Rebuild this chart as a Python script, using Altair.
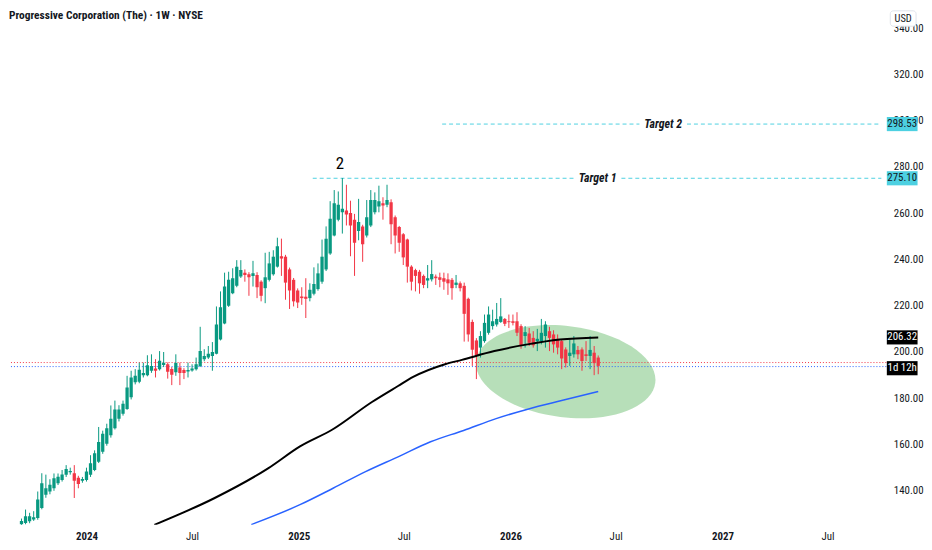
import altair as alt
import pandas as pd

# ---------------- data ----------------
title_text = "Progressive Corporation (The) · 1W · NYSE"
first_week = "2023-09-11"

opens = [
    125.5, 126.1, 126.9, 127.6, 128.3, 132.6, 138.3, 139.7, 141.1, 143.3,
    144.7, 146.9, 148.0, 147.6, 145.7, 144.3, 144.7, 146.9, 149.0, 152.6,
    156.9, 160.4, 164.0, 167.1, 171.2, 173.3, 175.4, 180.4, 186.9, 187.2,
    190.0, 190.0, 191.9, 192.9, 192.6, 194.4, 194.7, 192.7, 191.2, 193.3,
    192.2, 191.6, 192.0, 192.6, 194.0, 196.9, 197.6, 198.3, 199.3, 205.4,
    212.3, 220.0, 225.4, 228.6, 232.6, 234.3, 233.6, 232.9, 233.3, 230.4,
    227.6, 231.2, 233.6, 236.9, 241.4, 241.2, 235.7, 231.2, 226.6, 224.0,
    223.9, 223.3, 225.2, 227.2, 230.4, 235.7, 242.6, 250.4, 257.2, 260.4,
    261.2, 260.1, 257.2, 252.3, 254.3, 250.4, 254.7, 260.4, 262.9, 264.3,
    263.7, 264.7, 258.3, 254.0, 250.9, 248.6, 236.9, 235.4, 234.7, 232.9,
    230.9, 231.4, 232.6, 232.3, 231.9, 231.4, 231.2, 229.0, 229.7, 228.6,
    223.0, 213.0, 205.0, 201.9, 204.7, 208.3, 211.2, 211.9, 213.0, 214.3,
    213.3, 213.3, 213.3, 211.2, 206.9, 208.0, 206.1, 204.7, 204.7, 206.9,
    209.0, 207.6, 205.7, 204.7, 201.1, 198.3, 199.0, 200.9, 201.1, 199.0,
    198.3, 199.7, 197.6,
]
highs = [
    128.0, 131.9, 130.5, 131.2, 139.7, 147.6, 147.0, 145.0, 147.5, 147.5,
    149.0, 151.1, 150.0, 151.1, 146.5, 146.0, 150.0, 155.4, 157.5, 167.6,
    166.0, 169.0, 176.9, 179.0, 177.0, 179.0, 189.7, 191.9, 192.6, 195.4,
    195.4, 198.6, 199.0, 196.9, 200.4, 200.0, 195.5, 193.5, 199.0, 195.4,
    193.0, 195.4, 194.7, 197.6, 210.9, 201.2, 202.6, 204.3, 219.7, 226.2,
    234.3, 234.7, 236.2, 239.7, 239.7, 235.7, 234.5, 239.4, 234.5, 231.0,
    242.9, 243.3, 244.0, 249.4, 249.0, 242.0, 236.5, 232.0, 227.5, 228.0,
    231.9, 229.7, 236.6, 238.3, 248.6, 254.3, 265.2, 270.0, 269.4, 275.2,
    272.3, 265.4, 259.7, 266.2, 255.0, 265.7, 270.0, 269.0, 271.9, 266.9,
    272.3, 266.0, 259.0, 254.5, 251.4, 249.0, 237.5, 236.0, 235.5, 233.5,
    237.6, 239.7, 233.5, 234.3, 234.3, 234.0, 232.0, 233.3, 230.5, 230.0,
    223.5, 214.0, 206.0, 209.0, 216.2, 219.7, 218.3, 221.2, 223.3, 214.7,
    216.2, 216.2, 217.2, 212.0, 211.2, 210.4, 209.0, 210.0, 214.3, 213.3,
    210.9, 209.4, 207.6, 205.5, 202.0, 205.4, 206.9, 202.6, 202.0, 204.7,
    206.9, 202.6, 198.5,
]
lows = [
    124.5, 125.5, 126.0, 127.0, 127.5, 132.0, 137.0, 138.5, 140.0, 142.5,
    144.0, 146.0, 147.0, 136.9, 141.1, 143.5, 144.0, 146.0, 148.5, 152.0,
    156.0, 159.5, 163.0, 166.5, 170.0, 172.5, 175.0, 179.5, 186.0, 186.5,
    189.0, 189.5, 191.0, 189.0, 192.0, 193.5, 188.5, 185.7, 189.7, 185.7,
    188.3, 189.0, 191.5, 192.0, 193.5, 196.0, 197.0, 191.9, 199.0, 205.0,
    212.0, 219.5, 225.0, 228.0, 232.0, 230.4, 224.3, 228.3, 223.3, 221.9,
    221.1, 230.5, 233.0, 236.5, 232.9, 222.6, 218.6, 219.7, 219.0, 220.4,
    214.7, 221.9, 224.5, 226.5, 229.5, 235.0, 242.0, 250.0, 256.5, 251.2,
    254.7, 241.4, 232.9, 248.3, 239.0, 249.5, 254.0, 259.5, 260.4, 257.2,
    262.6, 246.6, 242.6, 243.3, 237.6, 230.0, 226.6, 226.2, 225.2, 227.6,
    227.6, 230.5, 229.0, 228.0, 226.9, 224.7, 222.6, 227.6, 226.2, 204.5,
    204.5, 194.0, 188.3, 197.6, 204.0, 207.5, 209.7, 211.0, 212.6, 211.2,
    210.4, 211.5, 206.9, 201.4, 201.9, 202.6, 201.9, 200.4, 203.3, 201.9,
    200.4, 199.7, 199.0, 192.6, 193.3, 194.0, 197.6, 196.9, 191.9, 196.1,
    192.6, 190.0, 190.4,
]
closes = [
    127.0, 129.0, 129.0, 128.6, 136.2, 143.3, 141.1, 142.6, 145.4, 146.1,
    147.1, 149.4, 148.6, 144.3, 142.9, 145.1, 148.3, 151.9, 156.2, 161.1,
    164.7, 167.1, 171.2, 175.2, 175.2, 177.6, 184.7, 189.0, 189.7, 192.3,
    190.9, 194.3, 194.0, 191.9, 196.2, 195.4, 191.5, 190.2, 195.2, 190.9,
    190.9, 192.2, 192.9, 194.7, 200.4, 198.3, 199.3, 200.0, 211.9, 219.4,
    228.3, 231.2, 231.9, 236.9, 235.4, 233.3, 232.3, 234.0, 228.0, 224.3,
    232.3, 238.3, 241.2, 245.7, 240.4, 230.0, 226.6, 221.9, 221.4, 223.3,
    223.0, 226.9, 229.4, 234.0, 241.2, 249.0, 257.6, 264.3, 263.7, 261.9,
    259.4, 254.7, 247.2, 256.2, 246.6, 258.3, 265.7, 265.7, 265.2, 263.3,
    265.7, 255.2, 250.4, 247.2, 240.9, 236.9, 230.4, 232.9, 229.7, 229.0,
    231.9, 233.7, 231.9, 231.2, 230.4, 229.7, 227.6, 230.0, 227.6, 216.5,
    207.6, 201.0, 198.5, 206.9, 212.6, 216.2, 213.3, 214.3, 215.4, 212.2,
    212.9, 212.6, 208.3, 202.9, 208.6, 204.0, 202.9, 205.7, 208.3, 211.9,
    206.1, 203.3, 201.9, 197.2, 195.2, 199.7, 203.7, 199.0, 196.1, 198.3,
    200.9, 195.2, 194.0,
]

ma_black_dates = ["2024-04-27", "2024-08-09", "2024-11-09", "2025-01-03", "2025-02-28",
                  "2025-05-07", "2025-06-21", "2025-07-17", "2025-09-10", "2025-10-09",
                  "2025-12-04", "2026-01-30", "2026-03-27", "2026-06-01"]
ma_black_values = [125.3, 136.9, 149.7, 159.2, 166.5, 178.4, 185.3, 189.2, 194.7, 196.6,
                   200.4, 203.3, 205.4, 206.32]

ma_blue_dates = ["2024-10-11", "2025-01-03", "2025-03-01", "2025-04-26", "2025-06-21",
                 "2025-08-16", "2025-10-12", "2025-12-07", "2026-02-01", "2026-03-30",
                 "2026-06-01"]
ma_blue_values = [125.4, 134.0, 141.1, 148.3, 154.7, 161.2, 166.1, 171.2, 175.4, 179.0, 182.9]

target_names = ["Target 1", "Target 2"]
target_prices = [275.10, 298.53]
target_text_dates = ["2026-05-31", "2026-09-21"]
target_seg_starts = ["2025-01-25", "2026-07-11", "2025-09-05", "2026-11-01"]
target_seg_ends = ["2026-04-21", "2027-10-02", "2026-08-11", "2027-10-02"]
target_seg_prices = [275.10, 275.10, 298.53, 298.53]

wave_labels = ["2"]
wave_dates = ["2025-03-13"]
wave_prices = [281.3]

price_line_values = [195.45, 193.7]
price_line_colors = ["#f23645", "#2962ff"]

tag_texts = ["298.53", "275.10", "206.32", "1d 12h"]
tag_prices = [298.53, 275.10, 206.32, 193.0]
tag_fills = ["#4dd0e1", "#4dd0e1", "#000000", "#000000"]
tag_text_colors = ["#131722", "#131722", "#ffffff", "#ffffff"]

ellipse_dates = ["2026-04-06"]
ellipse_prices = [191.5]

x_tick_dates = ["2024-01-01", "2024-07-01", "2025-01-01", "2025-07-01",
                "2026-01-01", "2026-07-01", "2027-01-01", "2027-07-01"]
y_tick_values = [140, 160, 180, 200, 220, 240, 260, 280, 300, 320, 340]
x_domain_dates = ["2023-08-29", "2027-10-02"]
y_domain = [125.3, 347.7]

# ---------------- build ----------------
UP = "#089981"
DOWN = "#f23645"
TXT = "#131722"
FONT = "'Liberation Sans Narrow', 'Roboto Condensed', 'DejaVu Sans Condensed', 'Liberation Sans', sans-serif"


def ms(s):
    return int(pd.Timestamp(s, tz="UTC").value // 10**6)


dates = pd.date_range(first_week, periods=len(opens), freq="7D").strftime("%Y-%m-%d")
candles = pd.DataFrame({"date": dates, "open": opens, "high": highs,
                        "low": lows, "close": closes})

xscale = alt.Scale(type="utc", domain=[ms(d) for d in x_domain_dates], nice=False)
yscale = alt.Scale(domain=y_domain, nice=False, zero=False)

xaxis = alt.Axis(
    values=[ms(d) for d in x_tick_dates],
    labelExpr="utcmonth(datum.value) == 0 ? utcFormat(datum.value, '%Y') : utcFormat(datum.value, '%b')",
    labelFontWeight={"condition": {"test": "utcmonth(datum.value) == 0", "value": "bold"},
                     "value": "normal"},
    labelPadding=6, ticks=False, domain=False, grid=False,
    labelFlush=False, labelOverlap=False,
)
yaxis = alt.Axis(orient="right", values=y_tick_values, format=".2f", labelPadding=7,
                 ticks=False, domain=False, grid=False, labelOverlap=False)


def X(field):
    return alt.X(f"{field}:T", scale=xscale, axis=xaxis, title=None)


def Y(field):
    return alt.Y(f"{field}:Q", scale=yscale, axis=yaxis, title=None)


color_cond = alt.condition("datum.close >= datum.open", alt.value(UP), alt.value(DOWN))

ellipse_path = "M-1,0A1,0.5055,0,1,1,1,0A1,0.5055,0,1,1,-1,0Z"
ellipse = alt.Chart(pd.DataFrame({"date": ellipse_dates, "price": ellipse_prices})).mark_point(
    shape=ellipse_path, size=33124, angle=7, filled=True, color="#4caf50",
    opacity=0.4, strokeWidth=0
).encode(x=X("date"), y=Y("price"))

price_lines = alt.Chart(pd.DataFrame({"price": price_line_values, "c": price_line_colors})).mark_rule(
    strokeDash=[1, 2], strokeWidth=1
).encode(y=Y("price"), color=alt.Color("c:N", scale=None))

target_lines = alt.Chart(pd.DataFrame({"date": target_seg_starts, "end": target_seg_ends,
                                       "price": target_seg_prices})).mark_rule(
    color="#4dd0e1", strokeDash=[4, 3], strokeWidth=1
).encode(x=X("date"), x2=alt.X2("end:T"), y=Y("price"))

wicks = alt.Chart(candles).mark_rule(strokeWidth=1, clip=True).encode(
    x=X("date"), y=Y("low"), y2=alt.Y2("high"), color=color_cond)

bodies = alt.Chart(candles).mark_bar(size=3.3, clip=True).encode(
    x=X("date"), y=Y("open"), y2=alt.Y2("close"), color=color_cond)

ma_black = alt.Chart(pd.DataFrame({"date": ma_black_dates, "price": ma_black_values})).mark_line(
    color="#000000", strokeWidth=2, interpolate="monotone", clip=True
).encode(x=X("date"), y=Y("price"))

ma_blue = alt.Chart(pd.DataFrame({"date": ma_blue_dates, "price": ma_blue_values})).mark_line(
    color="#2962ff", strokeWidth=1.5, interpolate="monotone", clip=True
).encode(x=X("date"), y=Y("price"))

target_text = alt.Chart(pd.DataFrame({"date": target_text_dates, "price": target_prices,
                                      "t": target_names})).mark_text(
    font=FONT, fontSize=12, fontStyle="italic", fontWeight="bold", color=TXT,
    align="center", baseline="middle"
).encode(x=X("date"), y=Y("price"), text="t:N")

wave_text = alt.Chart(pd.DataFrame({"date": wave_dates, "price": wave_prices,
                                    "t": wave_labels})).mark_text(
    font=FONT, fontSize=17, color="#000000", align="center", baseline="middle"
).encode(x=X("date"), y=Y("price"), text="t:N")

title = alt.Chart(pd.DataFrame({"t": [title_text]})).mark_text(
    font=FONT, fontSize=11.5, fontWeight="bold", color=TXT, align="left", baseline="middle"
).encode(x=alt.value(0), y=alt.value(6), text="t:N")

tags_df = pd.DataFrame({"price": tag_prices, "t": tag_texts, "f": tag_fills, "tc": tag_text_colors})
tag_box = alt.Chart(tags_df).mark_point(
    shape="M-1,-0.46L1,-0.46L1,0.46L-1,0.46Z", size=961, filled=True, opacity=1, strokeWidth=0
).encode(x=alt.value(901), y=Y("price"), color=alt.Color("f:N", scale=None))
tag_text = alt.Chart(tags_df).mark_text(
    font=FONT, fontSize=11, align="center", baseline="middle"
).encode(x=alt.value(901), y=Y("price"), text="t:N", color=alt.Color("tc:N", scale=None))

usd_box = alt.Chart(pd.DataFrame({"t": ["USD"]})).mark_rect(
    fill="#ffffff", stroke="#e0e3eb", strokeWidth=1, cornerRadius=3
).encode(x=alt.value(889), x2=alt.value(915), y=alt.value(0.5), y2=alt.value(16))
usd_text = alt.Chart(pd.DataFrame({"t": ["USD"]})).mark_text(
    font=FONT, fontSize=10.5, color=TXT, align="center", baseline="middle"
).encode(x=alt.value(902), y=alt.value(8.5), text="t:N")

chart = alt.layer(
    ellipse, price_lines, target_lines, wicks, bodies, ma_black, ma_blue,
    target_text, wave_text, title, tag_box, tag_text, usd_box, usd_text
).properties(
    width=885, height=519,
    padding={"left": 0, "top": 0, "right": 0, "bottom": 0},
    background="#ffffff",
).configure_view(strokeWidth=0).configure_axis(
    labelFont=FONT, labelFontSize=11, labelColor=TXT
)

chart.save("out.html", embed_options={"renderer": "svg", "actions": False})
